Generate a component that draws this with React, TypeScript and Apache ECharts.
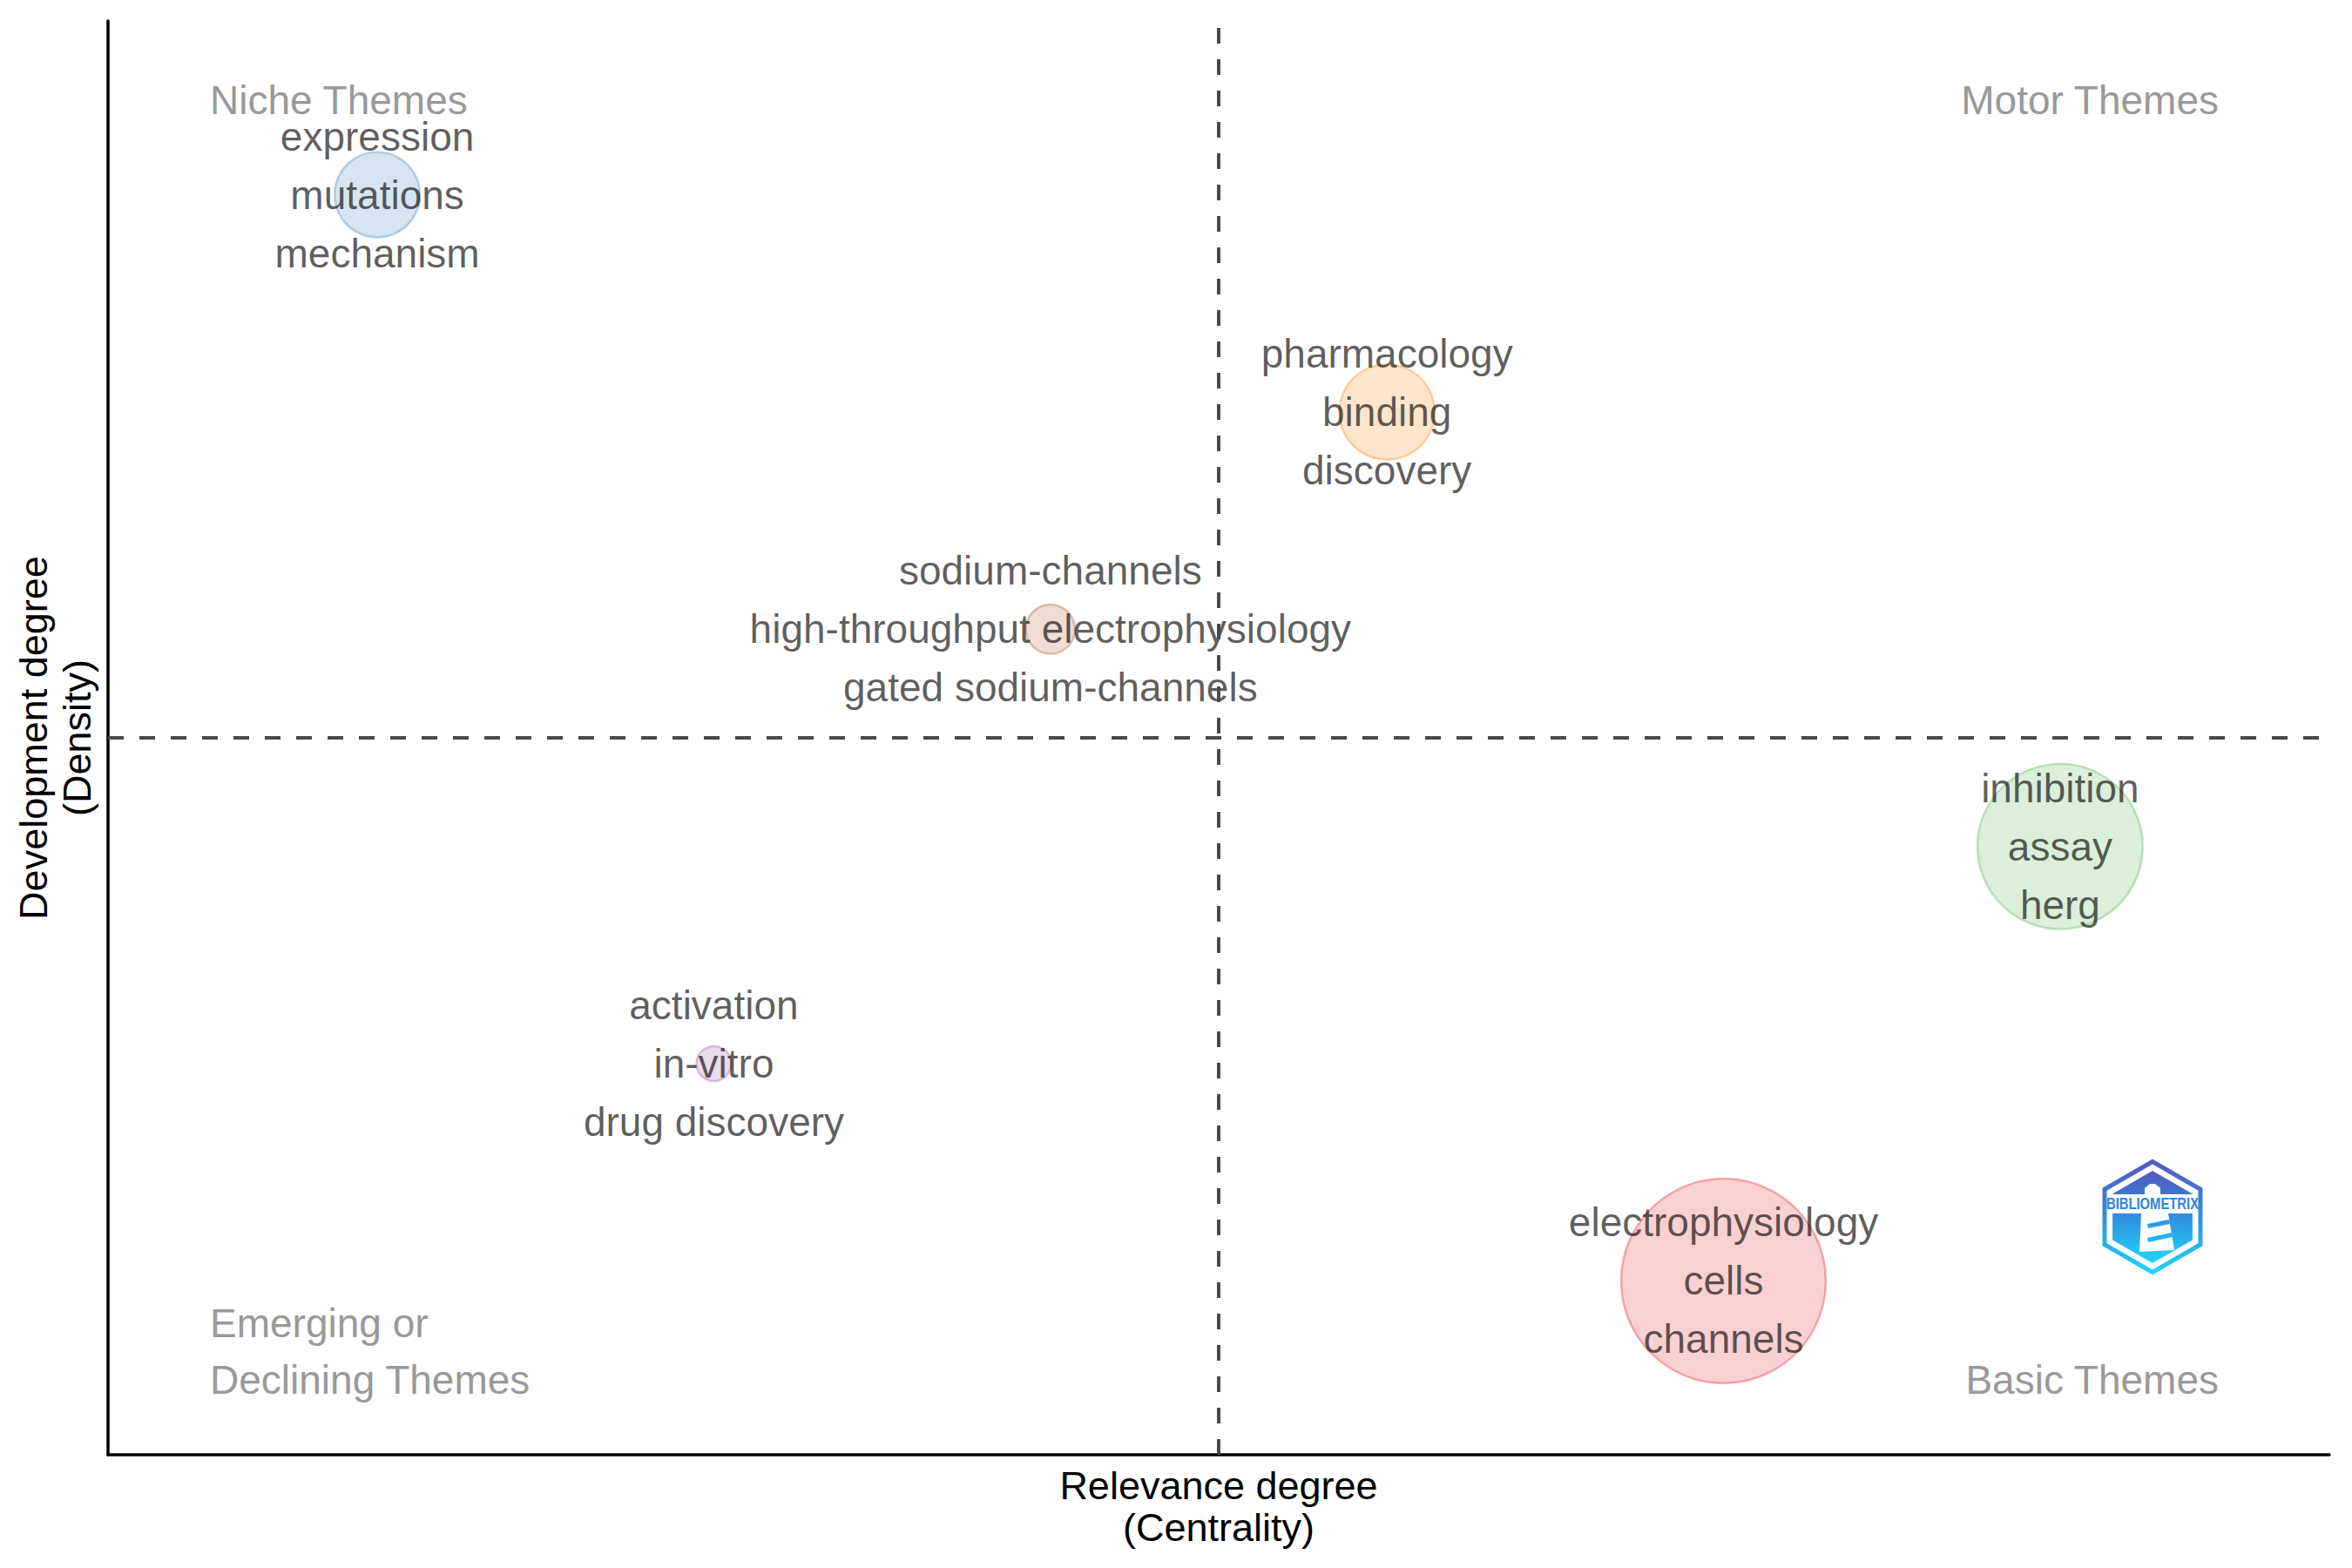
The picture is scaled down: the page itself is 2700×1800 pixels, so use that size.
import React, { useEffect, useRef } from "react";
import * as echarts from "echarts";

// ---- data ----
const clusterWords: string[][] = [
  ["expression", "mutations", "mechanism"],
  ["pharmacology", "binding", "discovery"],
  ["sodium-channels", "high-throughput electrophysiology", "gated sodium-channels"],
  ["inhibition", "assay", "herg"],
  ["activation", "in-vitro", "drug discovery"],
  ["electrophysiology", "cells", "channels"],
];
const centralityRank: number[] = [1, 4, 3, 6, 2, 5];
const densityRank: number[] = [6, 5, 4, 3, 2, 1];
const occurrences: number[] = [24, 30, 8, 90, 4, 138];
const quadrantTitles: string[] = ["Niche Themes", "Motor Themes", "Emerging or\nDeclining Themes", "Basic Themes"];
const xTitle = "Relevance degree\n(Centrality)";
const yTitle = "Development degree\n(Density)";

// ---- styles ----
const clusterColors: number[][] = [
  [55, 126, 184],
  [255, 127, 0],
  [166, 86, 40],
  [77, 175, 74],
  [152, 78, 163],
  [228, 26, 28],
];
const FONT = "'Liberation Sans', Arial, Helvetica, sans-serif";
const W = 2700;
const H = 1800;
const GRID = { left: 124, top: 24, right: 26, bottom: 130 };

function rgba(c: number[], a: number) {
  return `rgba(${c[0]},${c[1]},${c[2]},${a})`;
}

function hexPoints(r: number): number[][] {
  const pts: number[][] = [];
  for (let i = 0; i < 6; i++) {
    const ang = -Math.PI / 2 + (i * Math.PI) / 3;
    pts.push([r * Math.cos(ang), r * Math.sin(ang)]);
  }
  return pts;
}

export default function App() {
  const ref = useRef<HTMLDivElement>(null);

  useEffect(() => {
    document.body.style.margin = "0";
    if (!ref.current) return;
    const chart = echarts.init(ref.current, undefined, { renderer: "svg" });

    const meanX = centralityRank.reduce((a, b) => a + b, 0) / centralityRank.length;
    const meanY = densityRank.reduce((a, b) => a + b, 0) / densityRank.length;

    const data = clusterWords.map((words, i) => ({
      value: [centralityRank[i], densityRank[i], occurrences[i]],
      words,
      itemStyle: {
        color: rgba(clusterColors[i], 0.25),
        borderColor: rgba(clusterColors[i], 0.4),
        borderWidth: 2.5,
      },
    }));

    const grad = () =>
      new echarts.graphic.LinearGradient(0, 0, 0, 1, [
        { offset: 0, color: "#5558bf" },
        { offset: 0.5, color: "#2f8fe0" },
        { offset: 1, color: "#1fd6fa" },
      ]);

    const plotRight = W - GRID.right;
    const leftLabelX = GRID.left + 117;
    const rightLabelX = plotRight - 127;

    const qStyle = { fill: "#999999", fontSize: 46, fontFamily: FONT };

    const option: any = {
      animation: false,
      backgroundColor: "#ffffff",
      grid: { ...GRID, containLabel: false },
      xAxis: {
        type: "value",
        min: 0.2,
        max: 6.8,
        name: xTitle,
        nameLocation: "middle",
        nameGap: 11,
        nameTextStyle: { fontSize: 45, lineHeight: 48, color: "#000", fontFamily: FONT },
        axisLine: { show: true, onZero: false, lineStyle: { color: "#000", width: 3.5 } },
        axisTick: { show: false },
        axisLabel: { show: false },
        splitLine: { show: false },
      },
      yAxis: {
        type: "value",
        min: 0.2,
        max: 6.8,
        name: yTitle,
        nameLocation: "middle",
        nameGap: 11,
        nameRotate: 90,
        nameTextStyle: { fontSize: 45, lineHeight: 50, color: "#000", fontFamily: FONT },
        axisLine: { show: true, onZero: false, lineStyle: { color: "#000", width: 3.5 } },
        axisTick: { show: false },
        axisLabel: { show: false },
        splitLine: { show: false },
      },
      series: [
        {
          type: "scatter",
          data: [],
          silent: true,
          markLine: {
            silent: true,
            symbol: ["none", "none"],
            label: { show: false },
            lineStyle: { type: [18, 18], width: 4, color: "#4a4a4a" },
            data: [{ xAxis: meanX }, { yAxis: meanY }],
          },
        },
        {
          type: "scatter",
          silent: true,
          data,
          symbolSize: (val: number[]) => 20 * Math.sqrt(val[2]),
          label: {
            show: true,
            position: "inside",
            formatter: (p: any) => p.data.words.join("\n"),
            fontSize: 46,
            lineHeight: 67,
            color: "rgba(0,0,0,0.78)",
            fontFamily: FONT,
          },
          emphasis: { disabled: true },
          z: 3,
        },
      ],
      graphic: [
        { type: "text", x: leftLabelX, y: 115, style: { ...qStyle, text: quadrantTitles[0], align: "left", verticalAlign: "middle" } },
        { type: "text", x: rightLabelX, y: 115, style: { ...qStyle, text: quadrantTitles[1], align: "right", verticalAlign: "middle" } },
        {
          type: "text",
          x: leftLabelX,
          y: 1551,
          style: { ...qStyle, text: quadrantTitles[2], lineHeight: 65, align: "left", verticalAlign: "middle" },
        },
        { type: "text", x: rightLabelX, y: 1584, style: { ...qStyle, text: quadrantTitles[3], align: "right", verticalAlign: "middle" } },
        {
          type: "group",
          x: 2471,
          y: 1397,
          children: [
            { type: "polygon", shape: { points: hexPoints(63.5) }, style: { fill: "none", stroke: grad(), lineWidth: 5 } },
            { type: "polygon", shape: { points: hexPoints(53) }, style: { fill: grad() } },
            { type: "rect", shape: { x: -46, y: -26, width: 92, height: 22 }, style: { fill: "#ffffff" } },
            {
              type: "text",
              x: 0,
              y: -15,
              scaleX: 0.78,
              style: {
                text: "BIBLIOMETRIX",
                fontSize: 19,
                fontWeight: "bold",
                fontFamily: FONT,
                fill: "#2d84dc",
                align: "center",
                verticalAlign: "middle",
              },
            },
            {
              type: "polygon",
              shape: { points: [[-3, -38], [3, -38], [9, -33], [9, -26], [-9, -26], [-9, -33]] },
              style: { fill: "#ffffff" },
            },
            {
              type: "polygon",
              shape: { points: [[-13, -4], [18, -4], [25, 38], [-15, 40]] },
              style: { fill: "#ffffff" },
            },
            {
              type: "polygon",
              shape: { points: [[-6, 8], [19, 3], [20, 8], [-5, 13]] },
              style: { fill: "#2a9ae6" },
            },
            {
              type: "polygon",
              shape: { points: [[-6, 24], [22, 18], [23, 23], [-5, 29]] },
              style: { fill: "#22b4ee" },
            },
          ],
        },
      ],
    };

    chart.setOption(option);
    return () => chart.dispose();
  }, []);

  return <div ref={ref} style={{ width: W, height: H }} />;
}
